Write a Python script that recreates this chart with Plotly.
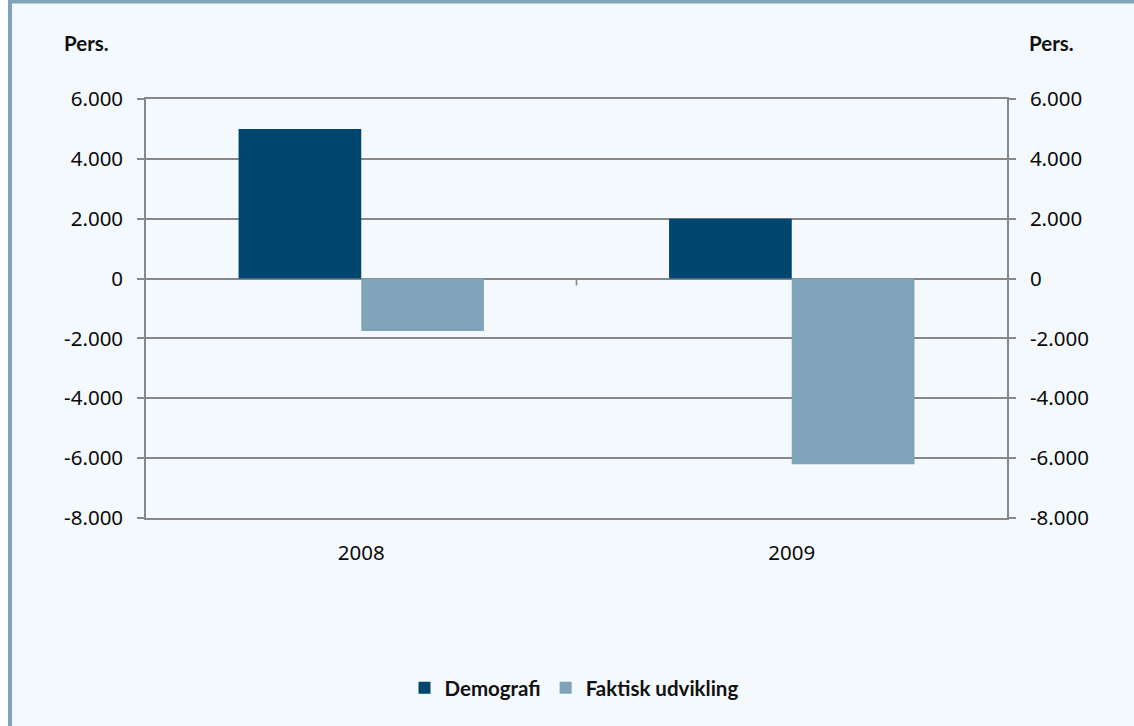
import plotly.graph_objects as go

categories = ["2008", "2009"]
demografi = [5000, 2000]
faktisk = [-1750, -6200]
tick_vals = [-8000, -6000, -4000, -2000, 0, 2000, 4000, 6000]
tick_text = ["-8.000", "-6.000", "-4.000", "-2.000", "0", "2.000", "4.000", "6.000"]

W, H = 1134, 726
L, R, T, B = 146, 1007, 99, 518  # plot area in px
def px(x):
    return (x - L) / (R - L)
def py(y):
    return (B - y) / (B - T)

dark = "#00466e"
light = "#7fa3b8"
grid = "#888888"
bg = "#f4f9fe"

fig = go.Figure()
fig.add_trace(go.Bar(x=categories, y=demografi, name="Demografi",
                     marker=dict(color=dark, line=dict(width=0))))
fig.add_trace(go.Bar(x=categories, y=faktisk, name="Faktisk udvikling",
                     marker=dict(color=light, line=dict(width=0))))
# invisible trace to activate the right axis
fig.add_trace(go.Scatter(x=categories, y=demografi, yaxis="y2", mode="markers",
                         marker=dict(opacity=0), showlegend=False, hoverinfo="skip"))

tickfont = dict(family="Noto Sans", size=20.5, color="#0a0a0a")

fig.update_layout(
    width=W, height=H,
    margin=dict(l=L, r=W - R, t=T, b=H - B, pad=0),
    paper_bgcolor=bg, plot_bgcolor=bg,
    barmode="group", bargap=0.43, bargroupgap=0,
    showlegend=True,
    legend=dict(orientation="h", x=px(574), xanchor="center", y=py(688), yanchor="middle",
                font=dict(family="Lato", size=20.5, color="#111111", weight="bold"),
                bgcolor="rgba(0,0,0,0)", itemwidth=30, tracegroupgap=0),
    xaxis=dict(showgrid=False, showline=True, mirror=True, linecolor=grid, linewidth=1.6,
               zeroline=False, ticks="", tickfont=tickfont, ticklabelstandoff=16,
               fixedrange=True),
    yaxis=dict(range=[-8000, 6000], tickvals=tick_vals, ticktext=tick_text,
               showgrid=True, gridcolor=grid, gridwidth=1.6,
               zeroline=False, showline=True, linecolor=grid, linewidth=1.6,
               ticks="outside", ticklen=7, tickcolor=grid, tickwidth=1.6,
               tickfont=tickfont, ticklabelstandoff=10, fixedrange=True),
    yaxis2=dict(range=[-8000, 6000], tickvals=tick_vals, ticktext=tick_text,
                overlaying="y", side="right", showgrid=False, zeroline=False,
                showline=True, linecolor=grid, linewidth=1.6,
                ticks="outside", ticklen=7, tickcolor=grid, tickwidth=1.6,
                tickfont=tickfont, ticklabelstandoff=10, fixedrange=True),
    annotations=[
        dict(text="<b>Pers.</b>", x=px(62), y=py(43), xref="paper", yref="paper",
             xanchor="left", yanchor="middle", showarrow=False,
             font=dict(family="Lato", size=20.5, color="#111111")),
        dict(text="<b>Pers.</b>", x=px(1027), y=py(43), xref="paper", yref="paper",
             xanchor="left", yanchor="middle", showarrow=False,
             font=dict(family="Lato", size=20.5, color="#111111")),
    ],
    shapes=[
        # white strip at far left
        dict(type="rect", xref="paper", yref="paper", x0=px(0), x1=px(8), y0=py(H), y1=py(0),
             fillcolor="white", line=dict(width=0), layer="below"),
        # left border
        dict(type="rect", xref="paper", yref="paper", x0=px(8), x1=px(12), y0=py(H), y1=py(0),
             fillcolor=light, line=dict(width=0), layer="above"),
        # top border
        dict(type="rect", xref="paper", yref="paper", x0=px(8), x1=px(W), y0=py(3.5), y1=py(0),
             fillcolor=light, line=dict(width=0), layer="above"),
        # category boundary tick on the zero line
        dict(type="line", xref="x", yref="y", x0=0.5, x1=0.5, y0=0, y1=-230,
             line=dict(color=grid, width=1.6)),
    ],
)

fig.write_html("out.html", config={"displayModeBar": False},
               post_script="document.body.style.margin='0';document.body.style.overflow='hidden';")
